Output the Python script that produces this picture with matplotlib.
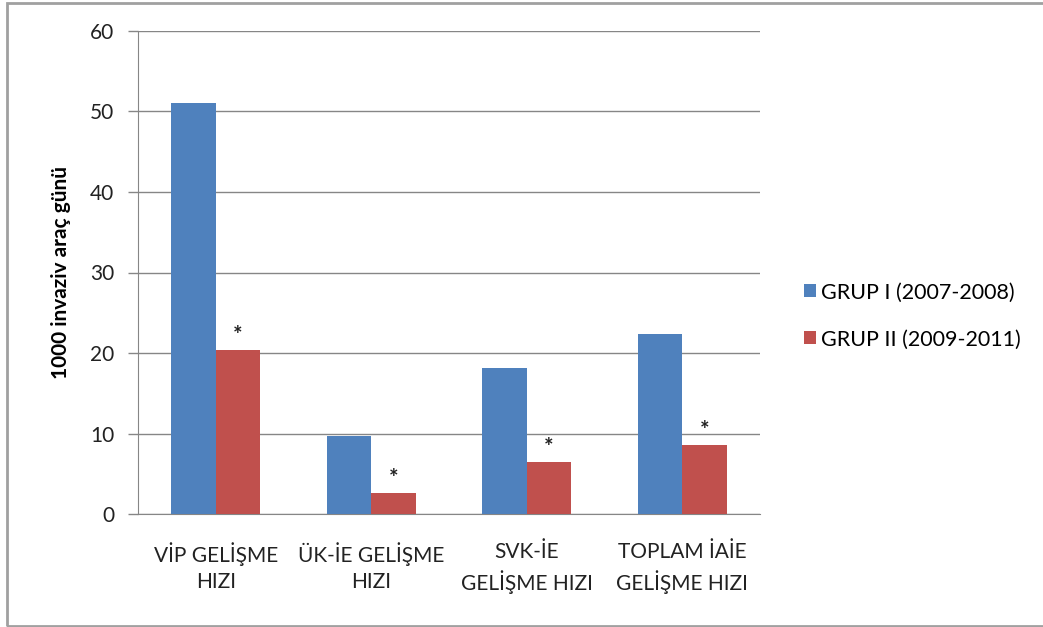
import matplotlib
matplotlib.use("Agg")
import matplotlib.pyplot as plt
import numpy as np
from matplotlib.patches import Rectangle

# veriler
kategoriler = ["VİP GELİŞME\nHIZI", "ÜK-İE GELİŞME\nHIZI", "SVK-İE\nGELİŞME HIZI", "TOPLAM İAİE\nGELİŞME HIZI"]
grup1 = [51.1, 9.7, 18.1, 22.4]
grup2 = [20.4, 2.6, 6.5, 8.6]
seri_adlari = ["GRUP I (2007-2008)", "GRUP II (2009-2011)"]
yildiz = ["*", "*", "*", "*"]

mavi = "#4F81BD"
kirmizi = "#C0504D"
gri = "#868686"

plt.rcParams["font.family"] = ["Lato", "DejaVu Sans"]

fig = plt.figure(figsize=(10.43, 6.27), dpi=100)
ax = fig.add_axes([138 / 1043, 1 - 514 / 627, 622 / 1043, 483 / 627])

# dis cerceve
fig.patches.append(Rectangle((7 / 1043, 1 / 627), 1.1, 623 / 627, transform=fig.transFigure,
                             fill=False, ec="#A0A0A0", lw=2))

x = np.arange(len(kategoriler))
w = 1 / 3.5
ax.bar(x - w / 2, grup1, w, color=mavi, label=seri_adlari[0], zorder=3)
ax.bar(x + w / 2, grup2, w, color=kirmizi, label=seri_adlari[1], zorder=3)

for xi, v, s in zip(x, grup2, yildiz):
    ax.text(xi + w / 2, v + 0.5, s, ha="center", va="bottom", fontsize=16, color="#222222",
            fontweight="bold")

ax.set_xlim(-0.5, len(kategoriler) - 0.5)
ax.set_ylim(0, 60)
ax.set_yticks(range(0, 61, 10))
ax.yaxis.grid(True, color=gri, lw=1, zorder=0)
ax.set_xticks(x)
ax.set_xticklabels(kategoriler, fontsize=15, linespacing=1.4, color="#222222")
ax.tick_params(axis="x", length=0, pad=20)
ax.tick_params(axis="y", length=7, width=1, color=gri, labelsize=15, labelcolor="#222222", pad=10)
for k in ["top", "right"]:
    ax.spines[k].set_visible(False)
ax.spines["left"].set_color(gri)
ax.spines["bottom"].set_color(gri)

ax.set_ylabel("1000 invaziv araç günü", fontsize=15, fontweight="bold", labelpad=14)

leg = ax.legend(loc="center left", bbox_to_anchor=(1.04, 0.41), frameon=False, fontsize=15.5,
                handlelength=0.55, handleheight=0.55, handletextpad=0.25, labelspacing=1.25)

fig.savefig("out.png", dpi=100)
